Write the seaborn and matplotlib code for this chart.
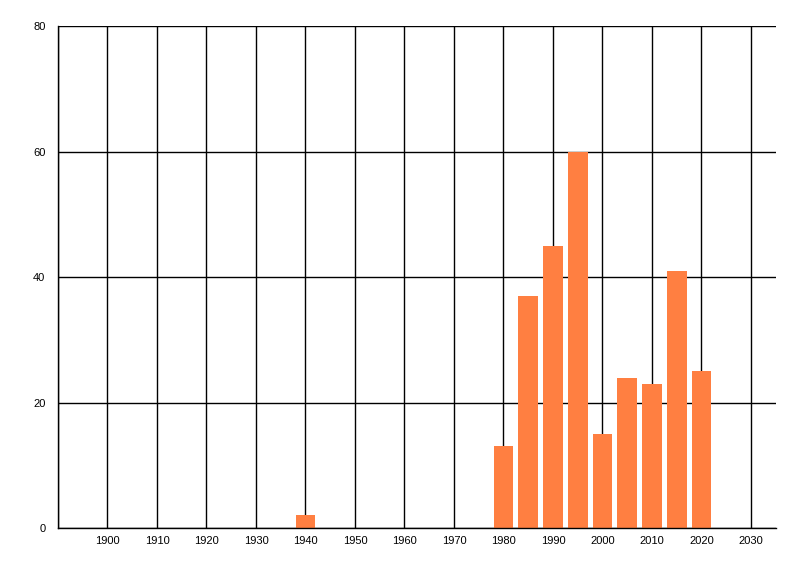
import numpy as np
import pandas as pd
import seaborn as sns
import matplotlib
matplotlib.use("Agg")
import matplotlib.pyplot as plt

years = [1940, 1980, 1985, 1990, 1995, 2000, 2005, 2010, 2015, 2020]
counts = [2, 13, 37, 45, 60, 15, 24, 23, 41, 25]
x_ticks = list(range(1900, 2031, 10))
y_ticks = [0, 20, 40, 60, 80]

df = pd.DataFrame({"year": years, "count": counts})

sns.set_style("white")
plt.rcParams['font.family'] = ['Liberation Sans', 'DejaVu Sans']

fig = plt.figure(figsize=(8, 5.76), dpi=100)
ax = fig.add_axes([0.0725, 0.0833, 0.8971, 0.871])

sns.barplot(data=df, x="year", y="count", native_scale=True, width=0.8,
            color="#FF7F41", saturation=1, linewidth=0, ax=ax, zorder=3)

# grid lines (black, thin)
for gx in range(1890, 2031, 10):
    ax.axvline(gx, color="black", lw=1.0, zorder=1)
for gy in y_ticks:
    ax.axhline(gy, color="black", lw=1.0, zorder=1)

ax.set_xlim(1890, 2035)
ax.set_ylim(0, 80)
ax.set_xticks(x_ticks)
ax.set_xticklabels([str(t) for t in x_ticks], fontsize=8, color="black")
ax.set_yticks(y_ticks)
ax.set_yticklabels([str(t) for t in y_ticks], fontsize=8, color="black")
ax.tick_params(axis="x", length=0, pad=6)
ax.tick_params(axis="y", length=7, width=1.0, color="black", pad=2)
ax.set_xlabel("")
ax.set_ylabel("")
for side in ["top", "right"]:
    ax.spines[side].set_visible(False)
for side in ["left", "bottom"]:
    ax.spines[side].set_color("black")
    ax.spines[side].set_linewidth(1.0)
    ax.spines[side].set_zorder(4)

fig.savefig("out.png", dpi=100)
